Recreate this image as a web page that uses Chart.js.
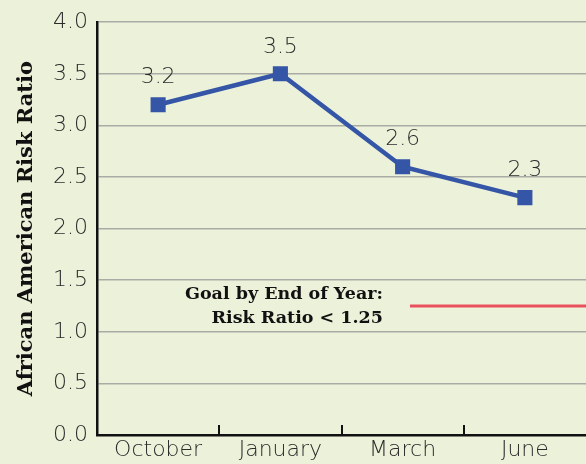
<!DOCTYPE html>
<html>
<head>
<meta charset="utf-8">
<script src="https://cdn.jsdelivr.net/npm/chart.js@4/dist/chart.umd.min.js"></script>
<style>
  html, body { margin: 0; padding: 0; background: #ecf2da; overflow: hidden; }
  #wrap { position: relative; width: 586px; height: 464px; }
</style>
</head>
<body>
<div id="wrap"><canvas id="riskChart"></canvas></div>
<script>
// chart data
const months = ["October", "January", "March", "June"];
const riskRatio = [3.2, 3.5, 2.6, 2.3];
const goalValue = 1.25;
const goalSpan = [2.06, 3.5];   // category positions where the goal line runs
const goalText = ["Goal by End of Year:", "Risk Ratio < 1.25"];
const yTicks = [0, 0.5, 1, 1.5, 2, 2.5, 3, 3.5, 4];

const tickFont = "DejaVu Sans";
const boldFont = "DejaVu Serif";

// value labels above points + goal text + inward x ticks
const extras = {
    id: "extras",
    afterDatasetsDraw(chart) {
        const ctx = chart.ctx;
        const x = chart.scales.x;
        const y = chart.scales.y;
        const area = chart.chartArea;

        // small ticks between categories, pointing up
        ctx.save();
        ctx.strokeStyle = "#111";
        ctx.lineWidth = 2;
        for (let i = 0; i < months.length - 1; i++) {
            const px = Math.round((x.getPixelForValue(i) + x.getPixelForValue(i + 1)) / 2);
            ctx.beginPath();
            ctx.moveTo(px, area.bottom - 10);
            ctx.lineTo(px, area.bottom);
            ctx.stroke();
        }

        // value labels
        const meta = chart.getDatasetMeta(0);
        ctx.fillStyle = "#2b2b2b";
        ctx.font = "200 22px " + tickFont;
        ctx.textAlign = "center";
        ctx.textBaseline = "middle";
        meta.data.forEach((pt, i) => {
            ctx.fillText(riskRatio[i].toFixed(1), pt.x, pt.y - 27);
        });

        // goal text
        const gy = y.getPixelForValue(goalValue);
        const gx = chart.scales.x2.getPixelForValue(goalSpan[0]) - 27;
        ctx.fillStyle = "#111";
        ctx.font = "bold 17.5px " + boldFont;
        ctx.textAlign = "right";
        ctx.fillText(goalText[0], gx, gy - 12);
        ctx.fillText(goalText[1], gx, gy + 12);
        ctx.restore();
    }
};

new Chart(document.getElementById("riskChart"), {
    type: "line",
    data: {
        labels: months,
        datasets: [{
            data: riskRatio,
            borderColor: "#3556a6",
            backgroundColor: "#3556a6",
            borderWidth: 4.5,
            pointStyle: "rect",
            pointRadius: 7.5,
            pointHoverRadius: 7.5,
            tension: 0,
            fill: false
        }, {
            type: "scatter",
            xAxisID: "x2",
            data: goalSpan.map(v => ({ x: v, y: goalValue })),
            showLine: true,
            borderColor: "#e9505c",
            borderWidth: 3,
            pointRadius: 0,
            fill: false
        }]
    },
    options: {
        responsive: true,
        maintainAspectRatio: false,
        animation: false,
        layout: { autoPadding: false, padding: { top: 7, right: 0, bottom: 0, left: 0 } },
        plugins: {
            legend: { display: false },
            tooltip: { enabled: false }
        },
        scales: {
            x: {
                offset: true,
                grid: { display: false, drawTicks: false },
                border: { display: true, color: "#111", width: 2.5 },
                ticks: {
                    color: "#2b2b2b",
                    font: { family: tickFont, size: 22, weight: "200" },
                    padding: 2,
                    maxRotation: 0
                },
                afterFit(scale) {
                    scale.height = 29;
                    scale.paddingLeft = 0;
                    scale.paddingRight = 0;
                }
            },
            x2: {
                type: "linear",
                display: false,
                min: -0.5,
                max: months.length - 0.5
            },
            y: {
                min: 0,
                max: 4,
                afterBuildTicks(scale) { scale.ticks = yTicks.map(v => ({ value: v })); },
                grid: {
                    color: (c) => c.tick && c.tick.value === 0 ? "rgba(0,0,0,0)" : "#a9aba4",
                    lineWidth: 1.5,
                    drawTicks: false
                },
                border: { display: true, color: "#111", width: 2.5 },
                ticks: {
                    color: "#2b2b2b",
                    font: { family: tickFont, size: 22, weight: "200" },
                    padding: 9,
                    callback: (v) => Number(v).toFixed(1)
                },
                title: {
                    display: true,
                    text: "African American Risk Ratio",
                    color: "#111",
                    font: { family: boldFont, size: 21, weight: "bold" },
                    padding: { top: 14, bottom: 0 }
                },
                afterFit(scale) { scale.width = 97; }
            }
        }
    },
    plugins: [extras]
});
</script>
</body>
</html>
